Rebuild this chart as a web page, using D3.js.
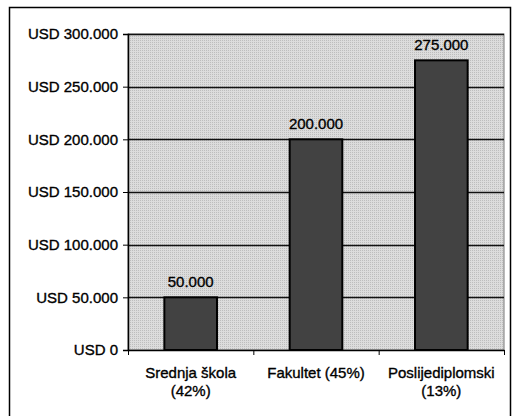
<!DOCTYPE html>
<html><head><meta charset="utf-8">
<script src="https://cdn.jsdelivr.net/npm/d3@7"></script>
<style>body{margin:0;background:#fff}svg{display:block}text{font-family:"Liberation Sans",Arial,sans-serif;fill:#000;stroke:#000;stroke-width:0.35px}</style>
</head><body><svg id="c" width="512" height="416"></svg>
<script>
const categories = [["Srednja škola","(42%)"],["Fakultet (45%)"],["Poslijediplomski","(13%)"]];
const values = [50000, 200000, 275000];
const valueLabels = ["50.000","200.000","275.000"];
const yTicks = [0,50000,100000,150000,200000,250000,300000];
const yTickLabels = ["USD 0","USD 50.000","USD 100.000","USD 150.000","USD 200.000","USD 250.000","USD 300.000"];

const svg = d3.select("#c");
const m = {l:128, t:34, r:504, b:350};
svg.append("defs").append("pattern").attr("id","dots").attr("width",2).attr("height",2).attr("patternUnits","userSpaceOnUse")
  .call(p=>{p.append("rect").attr("width",2).attr("height",2).attr("fill","#dcdcdc");
            p.append("rect").attr("width",1).attr("height",1).attr("fill","#bdbdbd");});
svg.append("rect").attr("x",9.5).attr("y",7.5).attr("width",501).attr("height",420).attr("fill","none").attr("stroke","#000").attr("stroke-width",1.5);

const x = d3.scaleBand().domain(d3.range(categories.length)).range([m.l,m.r]).paddingInner(0.58).paddingOuter(0.29);
const y = d3.scaleLinear().domain([0,300000]).range([m.b,m.t]);

svg.append("rect").attr("x",m.l).attr("y",m.t).attr("width",m.r-m.l).attr("height",m.b-m.t).attr("fill","url(#dots)").attr("stroke","#777").attr("stroke-width",1);

svg.append("g").selectAll("line").data(yTicks.slice(1)).join("line")
  .attr("x1",m.l).attr("x2",m.r).attr("y1",d=>Math.round(y(d))+0.5).attr("y2",d=>Math.round(y(d))+0.5)
  .attr("stroke","#111").attr("stroke-width",1.3);

svg.append("g").selectAll("rect").data(values).join("rect")
  .attr("x",(d,i)=>x(i)).attr("y",d=>y(d)).attr("width",x.bandwidth()).attr("height",d=>m.b-y(d))
  .attr("fill","#424242").attr("stroke","#000").attr("stroke-width",2);

const ya = d3.axisLeft(y).tickValues(yTicks).tickFormat((d,i)=>yTickLabels[i]).tickSize(5).tickPadding(5);
svg.append("g").attr("transform",`translate(${m.l},0)`).call(ya)
  .call(g=>{g.select(".domain").attr("stroke","#000").attr("stroke-width",1.5);
            g.selectAll("line").attr("stroke","#000");
            g.selectAll("text").attr("font-size",15).attr("font-family","Liberation Sans, Arial, sans-serif").attr("fill","#000");});

const xb = d3.scaleLinear().domain([0,3]).range([m.l,m.r]);
svg.append("g").attr("transform",`translate(0,${m.b})`).call(d3.axisBottom(xb).tickValues([0,1,2,3]).tickFormat("").tickSize(5).tickSizeOuter(0))
  .call(g=>{g.select(".domain").attr("stroke","#000").attr("stroke-width",1.5);g.selectAll("line").attr("stroke","#000");});

svg.append("g").selectAll("text").data(values).join("text")
  .attr("x",(d,i)=>x(i)+x.bandwidth()/2).attr("y",d=>y(d)-10).attr("text-anchor","middle")
  .attr("font-size",15).text((d,i)=>valueLabels[i]);

const cl = svg.append("g").selectAll("text").data(categories).join("text")
  .attr("text-anchor","middle").attr("font-size",15)
  .attr("transform",(d,i)=>`translate(${x(i)+x.bandwidth()/2},378)`);
cl.selectAll("tspan").data(d=>d).join("tspan").attr("x",0).attr("dy",(d,j)=>j?18:0).text(d=>d);
</script></body></html>
